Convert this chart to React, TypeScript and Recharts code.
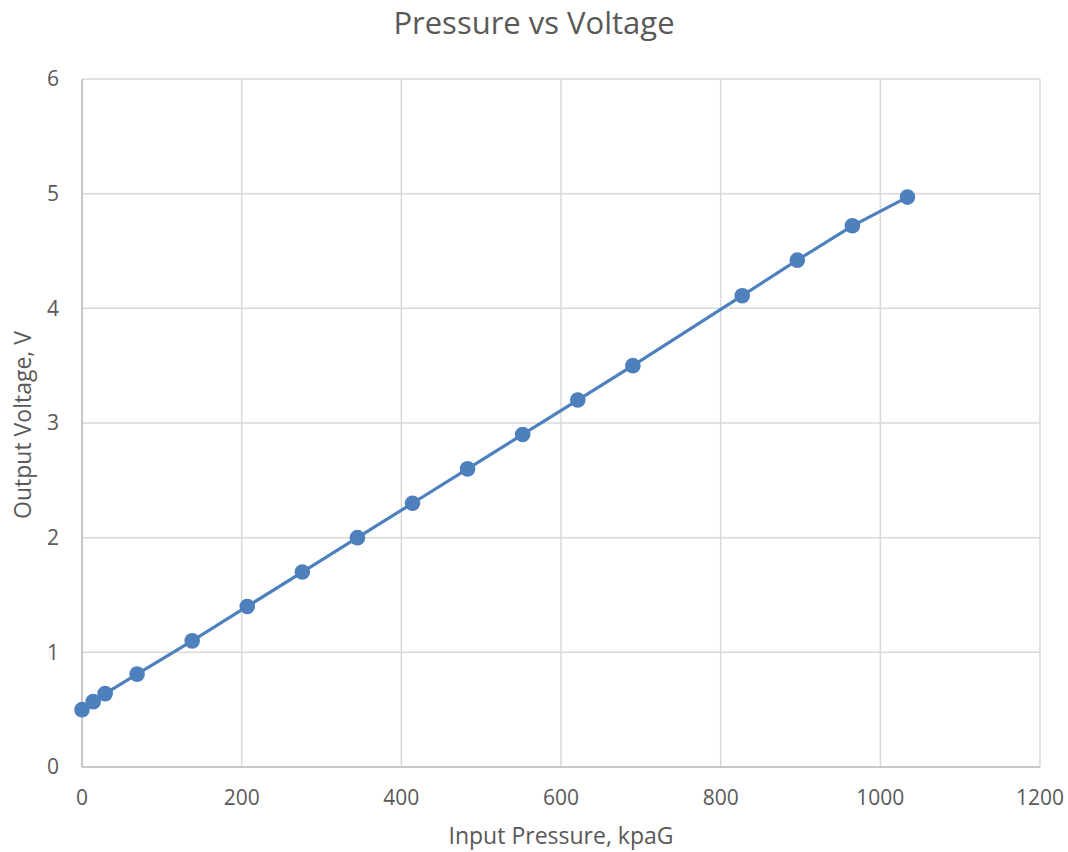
import { LineChart, Line, XAxis, YAxis, CartesianGrid } from 'recharts';

// input pressure (kpaG) vs output voltage (V)
const pressure = [0, 14, 29, 69, 138, 207, 276, 345, 414, 483, 552, 621, 690, 827, 896, 965, 1034];
const voltage = [0.5, 0.57, 0.64, 0.81, 1.1, 1.4, 1.7, 2.0, 2.3, 2.6, 2.9, 3.2, 3.5, 4.11, 4.42, 4.72, 4.97];

const xTicks = [0, 200, 400, 600, 800, 1000, 1200];
const yTicks = [0, 1, 2, 3, 4, 5, 6];

const data = pressure.map((p, i) => ({ pressure: p, voltage: voltage[i] }));

const FONT = '"Open Sans", sans-serif';
const TEXT = '#595959';
const BLUE = '#4e80bd';

const App = () => {
  return (
    <div style={{ position: 'absolute', left: 0, top: 0, width: 1068, height: 852, background: '#fff', fontFamily: FONT }}>
      <div
        style={{
          position: 'absolute',
          top: 1,
          left: 0,
          width: 1068,
          textAlign: 'center',
          fontSize: 31,
          color: TEXT,
        }}
      >
        Pressure vs Voltage
      </div>
      <LineChart
        width={1068}
        height={852}
        data={data}
        margin={{ top: 79, right: 28, left: 20, bottom: 25 }}
      >
        <CartesianGrid stroke="#d9d9d9" strokeWidth={1.5} />
        <XAxis
          dataKey="pressure"
          type="number"
          domain={[0, 1200]}
          ticks={xTicks}
          height={60}
          tickLine={false}
          tickSize={0}
          tickMargin={23}
          axisLine={{ stroke: '#bfbfbf', strokeWidth: 1.5 }}
          tick={{ fill: TEXT, fontSize: 21, fontFamily: FONT }}
        />
        <YAxis
          type="number"
          domain={[0, 6]}
          ticks={yTicks}
          width={62}
          tickLine={false}
          tickSize={0}
          tickMargin={23}
          axisLine={{ stroke: '#bfbfbf', strokeWidth: 1.5 }}
          tick={{ fill: TEXT, fontSize: 21, fontFamily: FONT }}
        />
        <Line
          dataKey="voltage"
          stroke={BLUE}
          strokeWidth={3.2}
          dot={{ r: 7.8, fill: BLUE, stroke: 'none' }}
          isAnimationActive={false}
        />
      </LineChart>
      <div
        style={{
          position: 'absolute',
          top: 819,
          left: 82,
          width: 958,
          textAlign: 'center',
          fontSize: 23,
          color: TEXT,
        }}
      >
        Input Pressure, kpaG
      </div>
      <div
        style={{
          position: 'absolute',
          top: 425,
          left: 22,
          transform: 'translate(-50%, -50%) rotate(-90deg)',
          whiteSpace: 'nowrap',
          fontSize: 23,
          color: TEXT,
        }}
      >
        Output Voltage, V
      </div>
    </div>
  );
};

export default App;
